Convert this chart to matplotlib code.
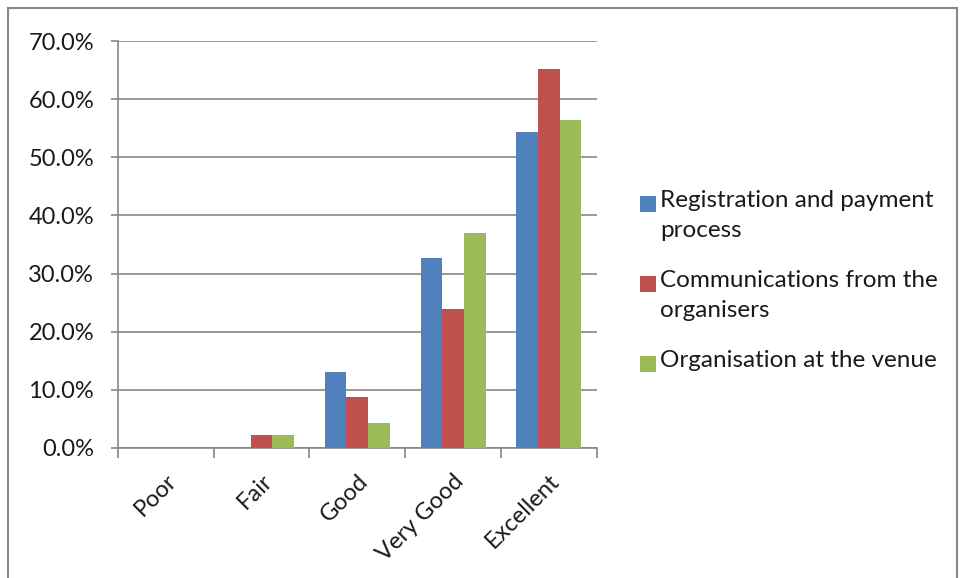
import matplotlib.pyplot as plt
import numpy as np
from matplotlib.patches import Rectangle
from matplotlib.ticker import PercentFormatter

CATEGORIES = ["Poor", "Fair", "Good", "Very Good", "Excellent"]
SERIES = [
    "Registration and payment\nprocess",
    "Communications from the\norganisers",
    "Organisation at the venue",
]
REGISTRATION = [0.0, 0.0, 13.0, 32.6, 54.3]
COMMUNICATIONS = [0.0, 2.2, 8.7, 23.9, 65.2]
VENUE = [0.0, 2.2, 4.3, 37.0, 56.5]
COLORS = ["#4F81BD", "#C0504D", "#9BBB59"]

FONT = "Lato"
GRID = "#868686"

fig = plt.figure(figsize=(9.6, 5.78), dpi=100)
ax = fig.add_axes([0.1227, 0.225, 0.499, 0.704])

x = np.arange(len(CATEGORIES))
width = 0.226
values = [REGISTRATION, COMMUNICATIONS, VENUE]
for i, (vals, color) in enumerate(zip(values, COLORS)):
    ax.bar(x + (i - 1) * width, vals, width, color=color, zorder=3, linewidth=0)

ax.set_xlim(-0.5, len(CATEGORIES) - 0.5)
ax.set_ylim(0, 70)
ax.set_yticks(np.arange(0, 71, 10))
ax.yaxis.set_major_formatter(PercentFormatter(decimals=1))
ax.grid(axis="y", color=GRID, linewidth=1.2, zorder=0)

ax.set_xticks(x)
ax.set_xticklabels(CATEGORIES, rotation=45, ha="right", va="top", rotation_mode="anchor")
ax.set_xticks(np.arange(-0.5, len(CATEGORIES)), minor=True)
ax.tick_params(axis="x", which="major", length=0, pad=16)
ax.tick_params(axis="x", which="minor", length=7, color=GRID, width=1.2)
ax.tick_params(axis="y", length=5, color=GRID, width=1.2, pad=12)

for label in ax.get_xticklabels() + ax.get_yticklabels():
    label.set_fontfamily(FONT)
    label.set_fontsize(17)
    label.set_color("#1a1a1a")

for side in ["top", "right"]:
    ax.spines[side].set_visible(False)
for side in ["left", "bottom"]:
    ax.spines[side].set_color(GRID)
    ax.spines[side].set_linewidth(1.2)

# legend, drawn by hand to match the original layout
W, H = 960, 578
legend_rows = [204, 284, 364]
for label, color, y in zip(SERIES, COLORS, legend_rows):
    fig.patches.append(
        Rectangle((640 / W, 1 - (y + 8) / H), 16 / W, 16 / H,
                  transform=fig.transFigure, facecolor=color, edgecolor="none")
    )
    fig.text(660 / W, 1 - (y - 14) / H, label, fontfamily=FONT, fontsize=17.5,
             color="#1a1a1a", va="top", ha="left", linespacing=1.55)

# outer chart frame
fig.patches.append(
    Rectangle((8 / W, -0.05), 949 / W, 1.05 - 8 / H, transform=fig.transFigure,
              facecolor="none", edgecolor="#888888", linewidth=1.5)
)

fig.savefig("out.png", dpi=100)
